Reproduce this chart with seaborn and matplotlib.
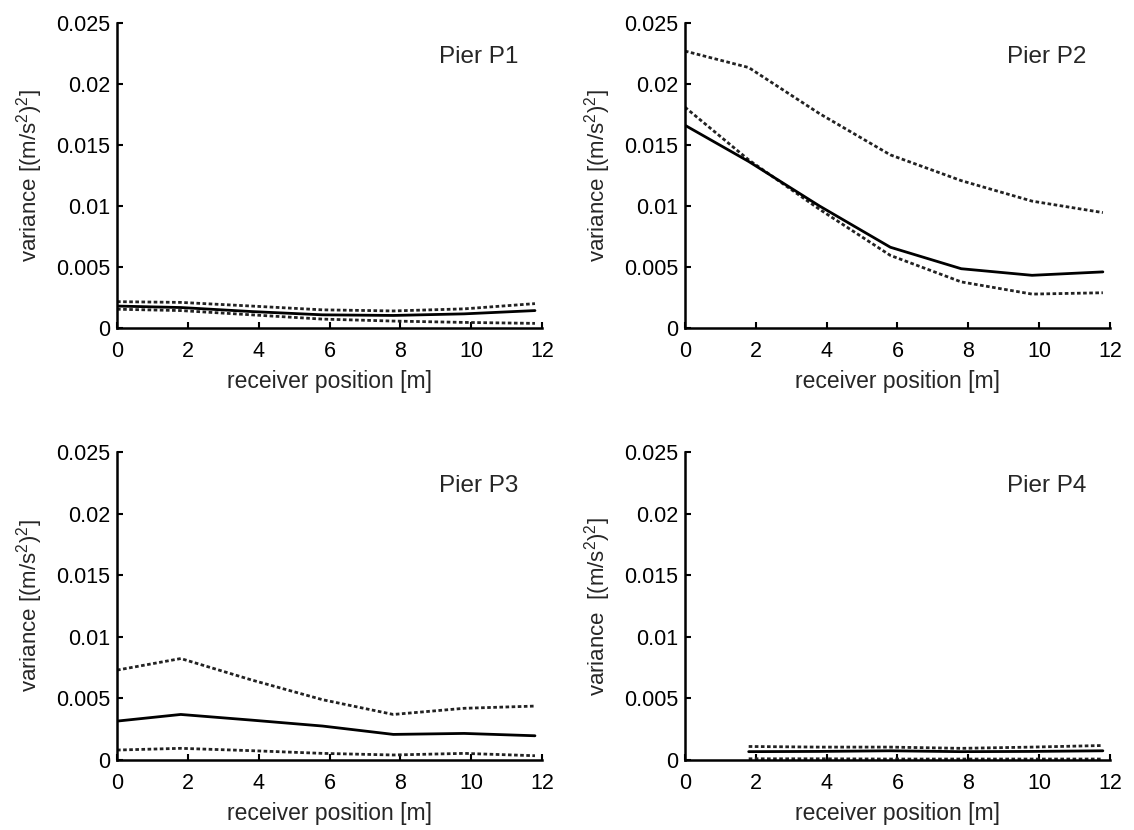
import numpy as np
import matplotlib
matplotlib.use("Agg")
import matplotlib.pyplot as plt
import seaborn as sns
from matplotlib.ticker import FuncFormatter

# receiver positions [m]
x_full = [0, 1.8, 3.8, 5.8, 7.8, 9.8, 11.8]
x_p4 = [1.8, 3.8, 5.8, 7.8, 9.8, 11.8]

# Pier P1
p1_upper = [0.00216, 0.0021, 0.0018, 0.00149, 0.0014, 0.00157, 0.0020]
p1_mean = [0.0018, 0.00168, 0.00135, 0.00108, 0.00103, 0.00116, 0.00143]
p1_lower = [0.00154, 0.00143, 0.00108, 0.00073, 0.00057, 0.00046, 0.00038]

# Pier P2
p2_upper = [0.0227, 0.02135, 0.01757, 0.01419, 0.01208, 0.0104, 0.00946]
p2_mean = [0.01662, 0.01365, 0.0100, 0.00662, 0.00486, 0.00432, 0.0046]
p2_lower = [0.0181, 0.01378, 0.00973, 0.00595, 0.00378, 0.00278, 0.00289]

# Pier P3
p3_upper = [0.0073, 0.00824, 0.0065, 0.0049, 0.0037, 0.0042, 0.00438]
p3_mean = [0.00316, 0.0037, 0.00324, 0.00276, 0.00208, 0.00216, 0.00197]
p3_lower = [0.00081, 0.00095, 0.00076, 0.00054, 0.00041, 0.00054, 0.00035]

# Pier P4 (no receiver at 0 m)
p4_upper = [0.0011, 0.00105, 0.00105, 0.00095, 0.00105, 0.00118]
p4_mean = [0.00068, 0.0007, 0.00075, 0.00068, 0.0007, 0.00075]
p4_lower = [0.0001, 0.0001, 0.00008, 0.00008, 0.00008, 0.00008]

titles = ["Pier P1", "Pier P2", "Pier P3", "Pier P4"]
ylabels = ["variance [(m/s$^2$)$^2$]", "variance [(m/s$^2$)$^2$]",
           "variance [(m/s$^2$)$^2$]", "variance  [(m/s$^2$)$^2$]"]

panels = [
    (x_full, p1_upper, p1_mean, p1_lower),
    (x_full, p2_upper, p2_mean, p2_lower),
    (x_full, p3_upper, p3_mean, p3_lower),
    (x_p4, p4_upper, p4_mean, p4_lower),
]

sns.set_style("white")
plt.rcParams['font.family'] = ['Liberation Sans', 'DejaVu Sans']
plt.rcParams['mathtext.fontset'] = 'custom'
plt.rcParams['mathtext.rm'] = 'Liberation Sans'
plt.rcParams['mathtext.it'] = 'Liberation Sans'

fig = plt.figure(figsize=(11.34, 8.30), dpi=100)
positions = [
    [0.1032, 0.6048, 0.3748, 0.3675],
    [0.6040, 0.6048, 0.3748, 0.3675],
    [0.1032, 0.0843, 0.3748, 0.3710],
    [0.6040, 0.0843, 0.3748, 0.3710],
]
dot = (0, (1.3, 0.9))

for pos, (xs, up, mn, lo), title, ylab in zip(positions, panels, titles, ylabels):
    ax = fig.add_axes(pos)
    sns.lineplot(x=xs, y=up, ax=ax, color='#222222', lw=2.0, linestyle=dot)
    sns.lineplot(x=xs, y=lo, ax=ax, color='#222222', lw=2.0, linestyle=dot)
    sns.lineplot(x=xs, y=mn, ax=ax, color='black', lw=2.0)
    ax.set_xlim(0, 12)
    ax.set_ylim(0, 0.025)
    ax.set_xticks(np.arange(0, 13, 2))
    ax.set_yticks(np.arange(0, 0.0251, 0.005))
    ax.yaxis.set_major_formatter(FuncFormatter(lambda v, p: f"{v:g}"))
    ax.tick_params(direction='in', length=4, width=1.5, labelsize=15.5,
                   left=True, bottom=True, colors='black')
    ax.tick_params(axis='x', pad=9)
    ax.tick_params(axis='y', pad=5)
    for side in ['top', 'right']:
        ax.spines[side].set_visible(False)
    for side in ['left', 'bottom']:
        ax.spines[side].set_color('black')
        ax.spines[side].set_linewidth(1.8)
    ax.set_xlabel("receiver position [m]", fontsize=16.5, labelpad=6)
    ax.set_ylabel(ylab, fontsize=16, labelpad=8)
    ax.text(0.85, 0.89, title, transform=ax.transAxes, ha='center',
            va='center', fontsize=17.5)

plt.savefig("out.png", dpi=100)
